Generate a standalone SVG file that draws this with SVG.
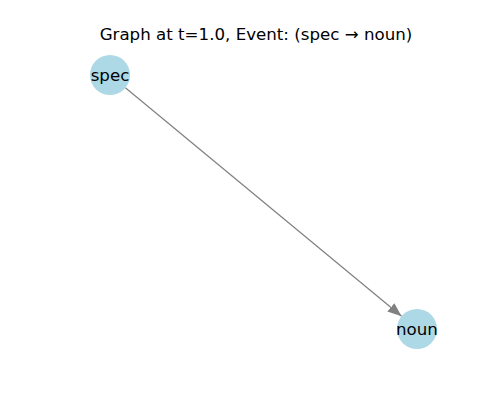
<svg xmlns="http://www.w3.org/2000/svg" width="500" height="400" viewBox="0 0 500 400">
<style>
.node{fill:#add8e6}
.lbl{font-family:"DejaVu Sans",sans-serif;font-size:16.67px;fill:#000;text-anchor:middle}
.edge{stroke:#808080;stroke-width:1.2;fill:none}
</style>
<defs>
<marker id="arr" markerUnits="userSpaceOnUse" markerWidth="16" markerHeight="12" refX="14" refY="6" orient="auto">
<path d="M0,0.5 L14,6 L0,11.5 z" fill="#808080"/>
</marker>
</defs>
<rect width="500" height="400" fill="#fff"/>
<text class="lbl" x="256" y="40">Graph at t=1.0, Event: (spec → noun)</text>
<g id="connectors">
<line class="edge" x1="125.4" y1="87.7" x2="401.6" y2="316.3" marker-end="url(#arr)"/>
</g>
<g id="spec">
<circle class="node" cx="110" cy="75" r="20"/>
<text class="lbl" x="110" y="80.5">spec</text>
</g>
<g id="noun">
<circle class="node" cx="417" cy="329" r="20"/>
<text class="lbl" x="417" y="334.5">noun</text>
</g>
</svg>
